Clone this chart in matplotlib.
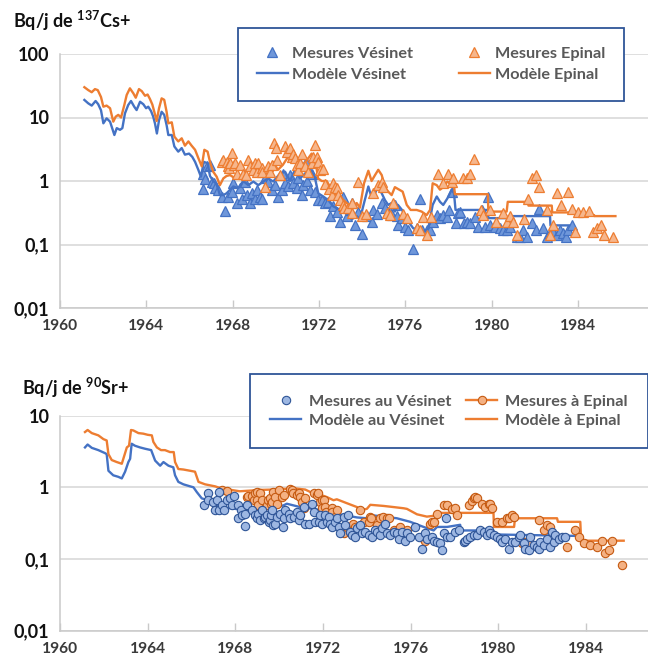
import numpy as np
import matplotlib
matplotlib.use("Agg")
import matplotlib.pyplot as plt
from matplotlib.lines import Line2D
from matplotlib.ticker import FixedLocator, FixedFormatter, NullLocator

plt.rcParams['font.family'] = ['Lato', 'DejaVu Sans']
plt.rcParams['font.weight'] = 'bold'
plt.rcParams['mathtext.fontset'] = 'custom'
plt.rcParams['mathtext.rm'] = 'Lato:bold'
plt.rcParams['mathtext.bf'] = 'Lato:bold'
plt.rcParams['mathtext.it'] = 'Lato:bold:italic'

# ---------------- data: 137Cs (Bq/j) ----------------
cs_model_vesinet = [
    (1961.13, 18.9), (1961.31, 16.7), (1961.47, 15.4), (1961.65, 18.2), (1961.77, 16.2), (1961.90, 13),
    (1962.01, 8.1), (1962.16, 9.7), (1962.32, 8.6), (1962.52, 5.3), (1962.63, 6.8), (1962.78, 6.4),
    (1962.89, 6.8), (1963.01, 11.6), (1963.16, 15.7), (1963.29, 18.2), (1963.44, 14.8), (1963.55, 13.1),
    (1963.71, 17.7), (1963.86, 16.2), (1963.99, 14), (1964.09, 14.8), (1964.22, 12.6), (1964.32, 10.3),
    (1964.40, 8.1), (1964.49, 5.6), (1964.59, 9.1), (1964.71, 12.3), (1964.83, 11), (1964.94, 7.6),
    (1965.02, 5.3), (1965.18, 5.3), (1965.30, 3.5), (1965.48, 2.9), (1965.64, 3.3), (1965.79, 2.6),
    (1965.98, 2.7), (1966.13, 2.4), (1966.26, 2.0), (1966.41, 1.5), (1966.53, 1.17), (1966.67, 2.0),
    (1966.84, 1.9), (1966.95, 1.2), (1967.10, 1.0), (1967.26, 0.9), (1967.41, 0.6), (1967.57, 0.6),
    (1967.72, 0.64), (1968.03, 0.82), (1968.26, 0.77), (1968.49, 1.0), (1968.73, 0.86), (1968.96, 0.98),
    (1969.19, 0.86), (1969.42, 0.98), (1969.65, 1.1), (1969.88, 0.98), (1970.19, 1.3), (1970.43, 1.4),
    (1970.66, 1.0), (1970.89, 1.5), (1971.12, 1.1), (1971.35, 1.3), (1971.58, 1.6), (1971.82, 1.1),
    (1971.97, 0.64), (1972.20, 0.57), (1972.43, 0.5), (1972.66, 0.4), (1972.97, 0.35), (1973.29, 0.31),
    (1973.52, 0.25), (1973.75, 0.28), (1973.90, 0.25), (1974.09, 0.45), (1974.29, 0.82), (1974.44, 0.55),
    (1974.60, 0.64), (1974.75, 0.85), (1974.91, 0.64), (1975.06, 0.5), (1975.21, 0.42), (1975.37, 0.45),
    (1975.52, 0.33), (1975.66, 0.42), (1975.85, 0.35), (1976.14, 0.23), (1976.37, 0.18), (1976.68, 0.17),
    (1976.91, 0.16), (1977.07, 0.18), (1977.27, 0.42), (1977.46, 0.57), (1977.61, 0.47), (1977.76, 0.42),
    (1977.95, 0.53), (1978.15, 0.73), (1978.26, 0.64), (1978.33, 0.35), (1979.83, 0.35), (1979.85, 0.26),
    (1980.77, 0.26), (1980.80, 0.28), (1982.71, 0.28), (1982.73, 0.2), (1983.59, 0.2),
]

cs_model_epinal = [
    (1961.13, 30), (1961.31, 27), (1961.47, 25), (1961.62, 28), (1961.75, 27), (1961.90, 21),
    (1962.01, 14.8), (1962.16, 15.4), (1962.32, 14), (1962.47, 8.6), (1962.58, 10.3), (1962.70, 11),
    (1962.83, 10), (1962.98, 15.7), (1963.09, 22.6), (1963.24, 28.8), (1963.40, 24), (1963.51, 20.5),
    (1963.66, 28), (1963.79, 26), (1963.94, 22), (1964.06, 23), (1964.17, 19.5), (1964.28, 16),
    (1964.37, 12.3), (1964.48, 8.8), (1964.59, 14), (1964.71, 20), (1964.83, 19), (1964.94, 12.3),
    (1965.02, 8.1), (1965.18, 8.4), (1965.30, 5.0), (1965.48, 4.2), (1965.64, 4.7), (1965.79, 3.6),
    (1965.95, 4.2), (1966.10, 3.6), (1966.26, 3.1), (1966.41, 2.3), (1966.57, 1.7), (1966.69, 3.1),
    (1966.84, 2.9), (1966.95, 2.0), (1967.10, 1.4), (1967.26, 1.17), (1967.41, 0.86), (1967.57, 1.1),
    (1967.72, 1.2), (1967.88, 1.24), (1968.03, 1.15), (1968.19, 1.1), (1968.48, 1.25), (1968.80, 1.6),
    (1969.11, 1.3), (1969.41, 1.5), (1969.73, 1.7), (1969.87, 2.0), (1970.10, 1.5), (1970.33, 1.8),
    (1970.57, 2.4), (1970.74, 2.7), (1970.89, 2.0), (1971.03, 2.3), (1971.20, 1.7), (1971.43, 2.1),
    (1971.66, 2.7), (1971.82, 2.3), (1971.96, 1.1), (1972.13, 1.0), (1972.36, 1.0), (1972.59, 0.73),
    (1972.82, 0.6), (1973.05, 0.53), (1973.29, 0.45), (1973.52, 0.38), (1973.75, 0.45), (1973.90, 0.38),
    (1974.09, 0.92), (1974.29, 1.45), (1974.44, 1.0), (1974.60, 1.24), (1974.75, 1.5), (1974.91, 1.24),
    (1975.06, 0.8), (1975.21, 0.68), (1975.37, 0.6), (1975.52, 0.8), (1975.66, 0.75), (1975.88, 0.68),
    (1976.07, 0.42), (1976.25, 0.35), (1976.53, 0.35), (1976.76, 0.33), (1976.99, 0.29), (1977.15, 0.35),
    (1977.27, 0.92), (1977.46, 0.86), (1977.61, 0.73), (1977.76, 0.8), (1977.95, 0.98), (1978.07, 0.92),
    (1978.23, 1.1), (1978.30, 0.62), (1979.83, 0.62), (1979.85, 0.33), (1980.70, 0.33), (1980.75, 0.47),
    (1981.69, 0.47), (1981.71, 0.41), (1982.79, 0.41), (1982.81, 0.32), (1983.91, 0.32), (1983.93, 0.29),
    (1984.75, 0.29), (1984.77, 0.28), (1985.74, 0.28),
]

cs_meas_vesinet = [
    (1966.62, 1.3), (1966.64, 0.75), (1966.72, 1.08), (1966.80, 1.7), (1966.95, 1.8), (1967.03, 0.98),
    (1967.15, 0.92), (1967.20, 0.77), (1967.34, 0.73), (1967.49, 0.57), (1967.65, 0.34), (1967.80, 0.57),
    (1967.96, 0.68), (1968.03, 0.92), (1968.19, 0.45), (1968.34, 0.77), (1968.42, 0.53), (1968.57, 0.98),
    (1968.65, 0.6), (1968.80, 0.45), (1968.88, 0.64), (1969.04, 0.53), (1969.11, 0.73), (1969.27, 0.57),
    (1969.34, 0.53), (1969.50, 1.1), (1969.65, 0.98), (1969.81, 0.73), (1969.96, 0.86), (1970.12, 0.57),
    (1970.27, 0.73), (1970.35, 1.3), (1970.43, 0.92), (1970.58, 0.82), (1970.66, 1.24), (1970.81, 0.92),
    (1970.97, 0.77), (1971.04, 1.1), (1971.20, 0.6), (1971.27, 0.86), (1971.40, 2.0), (1971.43, 1.0),
    (1971.58, 0.73), (1971.66, 1.3), (1971.82, 0.68), (1971.97, 0.5), (1972.13, 0.5), (1972.28, 0.45),
    (1972.43, 0.47), (1972.51, 0.28), (1972.66, 0.4), (1972.82, 0.33), (1972.97, 0.23), (1973.13, 0.57),
    (1973.28, 0.28), (1973.44, 0.35), (1973.52, 0.45), (1973.67, 0.2), (1973.82, 0.33), (1974.01, 0.146),
    (1974.21, 0.28), (1974.44, 0.23), (1974.52, 0.35), (1974.67, 0.3), (1974.91, 0.45), (1975.06, 0.38),
    (1975.21, 0.33), (1975.37, 0.29), (1975.52, 0.42), (1975.60, 0.28), (1975.68, 0.2), (1975.83, 0.26),
    (1975.99, 0.19), (1976.14, 0.17), (1976.34, 0.086), (1976.53, 0.18), (1976.68, 0.53), (1976.76, 0.17),
    (1976.99, 0.17), (1977.15, 0.17), (1977.30, 0.23), (1977.46, 0.29), (1977.61, 0.26), (1977.76, 0.29),
    (1977.92, 0.27), (1978.04, 0.35), (1978.15, 0.68), (1978.35, 0.215), (1978.46, 0.31), (1978.54, 0.33),
    (1978.72, 0.215), (1978.85, 0.23), (1979.00, 0.22), (1979.23, 0.27), (1979.38, 0.19), (1979.54, 0.35),
    (1979.69, 0.19), (1979.82, 0.57), (1979.93, 0.2), (1980.16, 0.19), (1980.39, 0.18), (1980.54, 0.17),
    (1980.70, 0.17), (1980.85, 0.19), (1981.16, 0.13), (1981.32, 0.13), (1981.47, 0.17), (1981.62, 0.13),
    (1981.86, 0.215), (1982.04, 0.17), (1982.20, 0.36), (1982.40, 0.18), (1982.55, 0.13), (1982.71, 0.15),
    (1982.86, 0.16), (1983.02, 0.14), (1983.17, 0.17), (1983.32, 0.15), (1983.45, 0.13), (1983.55, 0.17),
    (1983.71, 0.2),
]

cs_meas_epinal = [
    (1967.49, 2.0), (1967.57, 2.15), (1967.72, 2.0), (1967.80, 1.7), (1967.85, 1.6), (1967.88, 1.9),
    (1967.98, 2.8), (1968.07, 1.8), (1968.11, 1.9), (1968.19, 1.3), (1968.34, 1.8), (1968.49, 1.3),
    (1968.60, 1.24), (1968.73, 2.15), (1968.80, 1.7), (1968.96, 1.5), (1969.04, 1.9), (1969.11, 1.4),
    (1969.19, 1.9), (1969.34, 1.6), (1969.37, 1.4), (1969.50, 0.8), (1969.65, 1.7), (1969.73, 1.4),
    (1969.81, 1.8), (1969.92, 4.0), (1970.01, 3.3), (1970.07, 2.15), (1970.19, 1.24), (1970.43, 3.5),
    (1970.53, 2.9), (1970.66, 3.3), (1970.74, 2.4), (1970.81, 2.7), (1970.89, 2.3), (1970.97, 1.8),
    (1971.04, 1.5), (1971.12, 1.9), (1971.20, 2.7), (1971.35, 1.7), (1971.51, 1.4), (1971.66, 1.9),
    (1971.74, 2.4), (1971.82, 3.7), (1971.89, 2.4), (1971.97, 2.0), (1972.05, 1.5), (1972.17, 1.55),
    (1972.30, 0.9), (1972.45, 0.75), (1972.59, 0.6), (1972.66, 0.92), (1972.74, 0.8), (1972.82, 0.77),
    (1972.90, 0.6), (1972.97, 0.5), (1973.13, 0.42), (1973.15, 0.38), (1973.36, 0.38), (1973.52, 0.31),
    (1973.55, 0.45), (1973.82, 0.98), (1973.98, 0.28), (1974.20, 0.3), (1974.52, 0.64), (1974.75, 0.86),
    (1974.91, 0.98), (1974.98, 0.8), (1975.14, 0.31), (1975.29, 0.29), (1975.45, 0.45), (1975.90, 0.3),
    (1976.10, 0.26), (1976.53, 0.18), (1976.68, 0.17), (1976.84, 0.27), (1977.02, 0.14), (1977.18, 0.27),
    (1977.53, 1.3), (1977.76, 0.92), (1977.99, 1.3), (1978.15, 0.98), (1978.23, 1.1), (1978.66, 1.1),
    (1978.85, 1.1), (1979.00, 1.3), (1979.18, 2.2), (1979.49, 0.35), (1979.62, 0.29), (1979.93, 0.35),
    (1980.20, 0.23), (1980.51, 0.31), (1980.70, 0.23), (1980.85, 0.28), (1981.01, 0.23), (1981.19, 0.14),
    (1981.52, 0.25), (1981.70, 0.52), (1981.86, 1.1), (1982.04, 1.24), (1982.20, 0.8), (1982.55, 0.35),
    (1982.71, 0.14), (1982.86, 0.2), (1983.02, 0.64), (1983.20, 0.42), (1983.52, 0.68), (1983.71, 0.36),
    (1983.86, 0.16), (1984.02, 0.33), (1984.22, 0.33), (1984.53, 0.34), (1984.71, 0.16), (1984.87, 0.18),
    (1985.06, 0.2), (1985.21, 0.14), (1985.61, 0.13),
]

# ---------------- data: 90Sr (Bq/j) ----------------
sr_model_vesinet = [
    (1961.14, 3.6), (1961.26, 3.95), (1961.45, 3.55), (1961.75, 3.3), (1962.05, 3.0), (1962.13, 2.9),
    (1962.21, 1.7), (1962.43, 1.47), (1962.66, 1.4), (1962.82, 1.33), (1962.97, 1.65), (1963.12, 2.25),
    (1963.20, 2.5), (1963.27, 4.05), (1963.42, 3.8), (1963.65, 3.6), (1963.88, 3.45), (1964.16, 3.3),
    (1964.34, 2.36), (1964.57, 2.0), (1964.72, 2.25), (1964.95, 2.0), (1965.17, 1.9), (1965.25, 1.47),
    (1965.40, 1.19), (1965.63, 1.1), (1965.94, 1.03), (1966.09, 1.0), (1966.24, 0.86), (1966.47, 0.70),
    (1966.77, 0.66), (1967.38, 0.53), (1967.99, 0.5), (1968.45, 0.48), (1968.68, 0.48), (1969.59, 0.5),
    (1970.20, 0.56), (1970.35, 0.59), (1970.96, 0.53), (1971.72, 0.49), (1972.33, 0.44), (1972.94, 0.41),
    (1973.55, 0.38), (1974.00, 0.37), (1974.16, 0.41), (1974.76, 0.39), (1975.37, 0.37), (1975.98, 0.33),
    (1976.59, 0.28), (1977.05, 0.25), (1977.20, 0.28), (1977.66, 0.28), (1978.26, 0.30), (1978.30, 0.25),
    (1979.78, 0.25), (1979.80, 0.22), (1983.55, 0.21),
]

sr_model_epinal = [
    (1961.14, 5.9), (1961.26, 6.3), (1961.45, 5.7), (1961.75, 5.3), (1961.98, 4.7), (1962.13, 4.5),
    (1962.21, 2.9), (1962.36, 2.4), (1962.59, 2.25), (1962.82, 2.13), (1962.89, 2.5), (1963.05, 3.6),
    (1963.15, 3.8), (1963.24, 6.3), (1963.35, 6.2), (1963.58, 5.7), (1963.80, 5.6), (1964.00, 5.4),
    (1964.19, 5.3), (1964.26, 4.3), (1964.42, 3.6), (1964.61, 3.3), (1964.79, 3.3), (1965.02, 3.1),
    (1965.19, 3.1), (1965.25, 2.25), (1965.40, 1.8), (1965.63, 1.77), (1965.94, 1.7), (1966.16, 1.65),
    (1966.32, 1.19), (1966.62, 1.1), (1967.08, 1.03), (1967.38, 0.96), (1967.70, 0.93), (1968.20, 0.88),
    (1968.70, 0.9), (1969.20, 0.92), (1969.70, 0.93), (1970.20, 0.95), (1970.81, 0.96), (1971.19, 0.93),
    (1971.42, 0.86), (1971.72, 0.82), (1972.18, 0.73), (1972.48, 0.66), (1972.63, 0.68), (1973.09, 0.6),
    (1973.55, 0.53), (1973.70, 0.48), (1974.00, 0.50), (1974.16, 0.57), (1974.76, 0.55), (1975.22, 0.53),
    (1975.68, 0.51), (1975.83, 0.50), (1976.29, 0.42), (1976.74, 0.39), (1977.05, 0.40), (1977.35, 0.44),
    (1977.96, 0.44), (1978.26, 0.44), (1979.78, 0.44), (1979.80, 0.28), (1980.72, 0.28), (1980.76, 0.37),
    (1982.68, 0.37), (1982.72, 0.33), (1983.74, 0.33), (1983.78, 0.18), (1985.72, 0.18),
]

sr_meas_vesinet = [
    (1966.59, 0.56), (1966.74, 0.82), (1966.77, 0.66), (1967.00, 0.63), (1967.08, 0.48), (1967.16, 0.67),
    (1967.25, 0.85), (1967.26, 0.48), (1967.38, 0.56), (1967.50, 0.49), (1967.61, 0.66), (1967.76, 0.72),
    (1967.84, 0.56), (1967.96, 0.75), (1968.11, 0.56), (1968.14, 0.37), (1968.25, 0.48), (1968.30, 0.41),
    (1968.42, 0.29), (1968.45, 0.43), (1968.52, 0.56), (1968.75, 0.48), (1968.90, 0.41), (1968.98, 0.37),
    (1969.03, 0.43), (1969.13, 0.35), (1969.21, 0.48), (1969.33, 0.37), (1969.36, 0.39), (1969.44, 0.41),
    (1969.52, 0.33), (1969.59, 0.35), (1969.62, 0.41), (1969.67, 0.48), (1969.70, 0.30), (1969.82, 0.31),
    (1969.90, 0.39), (1970.05, 0.43), (1970.17, 0.28), (1970.20, 0.37), (1970.28, 0.48), (1970.43, 0.43),
    (1970.51, 0.37), (1970.66, 0.39), (1970.81, 0.45), (1970.89, 0.35), (1970.96, 0.41), (1971.12, 0.53),
    (1971.19, 0.31), (1971.34, 0.31), (1971.50, 0.59), (1971.57, 0.45), (1971.65, 0.33), (1971.80, 0.33),
    (1971.88, 0.41), (1971.95, 0.31), (1972.10, 0.41), (1972.18, 0.33), (1972.26, 0.39), (1972.33, 0.31),
    (1972.41, 0.28), (1972.56, 0.33), (1972.64, 0.37), (1972.71, 0.28), (1972.79, 0.23), (1972.94, 0.39),
    (1973.02, 0.30), (1973.12, 0.41), (1973.22, 0.24), (1973.32, 0.215), (1973.47, 0.20), (1973.55, 0.27),
    (1973.70, 0.30), (1973.78, 0.23), (1973.93, 0.24), (1974.08, 0.215), (1974.24, 0.20), (1974.39, 0.25),
    (1974.46, 0.24), (1974.62, 0.215), (1974.69, 0.27), (1974.84, 0.31), (1974.92, 0.23), (1975.07, 0.215),
    (1975.22, 0.24), (1975.38, 0.23), (1975.45, 0.19), (1975.61, 0.24), (1975.76, 0.18), (1975.83, 0.23),
    (1975.99, 0.20), (1976.21, 0.28), (1976.37, 0.20), (1976.52, 0.14), (1976.67, 0.23), (1976.75, 0.19),
    (1976.98, 0.20), (1977.05, 0.18), (1977.20, 0.174), (1977.36, 0.165), (1977.43, 0.133), (1977.50, 0.23),
    (1977.63, 0.37), (1977.66, 0.20), (1977.81, 0.20), (1978.03, 0.24), (1978.19, 0.25), (1978.42, 0.174),
    (1978.49, 0.18), (1978.57, 0.19), (1978.72, 0.20), (1978.87, 0.215), (1979.02, 0.215), (1979.18, 0.25),
    (1979.33, 0.24), (1979.48, 0.215), (1979.56, 0.25), (1979.63, 0.23), (1979.79, 0.215), (1979.94, 0.20),
    (1980.09, 0.19), (1980.17, 0.174), (1980.32, 0.19), (1980.47, 0.14), (1980.62, 0.174), (1980.77, 0.174),
    (1980.93, 0.20), (1981.00, 0.215), (1981.16, 0.165), (1981.23, 0.14), (1981.38, 0.133), (1981.46, 0.20),
    (1981.61, 0.156), (1981.76, 0.148), (1981.84, 0.14), (1981.92, 0.174), (1982.07, 0.156), (1982.22, 0.19),
    (1982.37, 0.148), (1982.45, 0.24), (1982.53, 0.174), (1982.60, 0.215), (1982.75, 0.19), (1982.91, 0.20),
    (1983.06, 0.20),
]

sr_meas_epinal = [
    (1967.38, 0.93), (1967.61, 0.88), (1968.52, 0.73), (1968.60, 0.75), (1968.75, 0.75), (1968.83, 0.66),
    (1968.90, 0.82), (1968.98, 0.86), (1969.00, 0.67), (1969.05, 0.56), (1969.13, 0.82), (1969.21, 0.66),
    (1969.44, 0.56), (1969.47, 0.66), (1969.59, 0.70), (1969.62, 0.59), (1969.67, 0.63), (1969.74, 0.86),
    (1969.82, 0.73), (1969.90, 0.59), (1969.97, 0.91), (1970.12, 0.73), (1970.20, 0.77), (1970.50, 0.96),
    (1970.60, 0.91), (1970.65, 0.82), (1970.81, 0.77), (1970.89, 0.82), (1970.96, 0.73), (1971.04, 0.63),
    (1971.12, 0.51), (1971.19, 0.70), (1971.57, 0.82), (1971.72, 0.77), (1971.79, 0.82), (1971.88, 0.63),
    (1971.95, 0.66), (1971.97, 0.51), (1972.03, 0.66), (1972.10, 0.53), (1972.12, 0.45), (1972.40, 0.51),
    (1972.43, 0.45), (1972.55, 0.39), (1972.64, 0.48), (1972.94, 0.23), (1973.09, 0.28), (1973.25, 0.24),
    (1973.39, 0.31), (1973.47, 0.28), (1973.70, 0.48), (1973.86, 0.33), (1974.08, 0.33), (1974.15, 0.39),
    (1974.20, 0.37), (1974.46, 0.30), (1974.61, 0.37), (1974.76, 0.39), (1974.92, 0.37), (1974.99, 0.37),
    (1975.22, 0.25), (1975.29, 0.24), (1975.52, 0.28), (1975.83, 0.25), (1976.59, 0.19), (1976.66, 0.18),
    (1976.89, 0.31), (1976.98, 0.33), (1977.05, 0.33), (1977.20, 0.43), (1977.50, 0.56), (1977.65, 0.56),
    (1977.88, 0.50), (1978.03, 0.51), (1978.11, 0.41), (1978.64, 0.56), (1978.80, 0.65), (1978.87, 0.70),
    (1978.95, 0.73), (1979.02, 0.70), (1979.25, 0.59), (1979.40, 0.53), (1979.56, 0.59), (1979.63, 0.59),
    (1979.71, 0.51), (1979.94, 0.33), (1980.17, 0.33), (1980.39, 0.37), (1980.47, 0.37), (1980.62, 0.41),
    (1980.70, 0.39), (1981.08, 0.165), (1981.23, 0.174), (1981.40, 0.17), (1981.84, 0.35), (1982.07, 0.25),
    (1982.22, 0.30), (1982.37, 0.28), (1982.45, 0.165), (1983.13, 0.148), (1983.51, 0.25), (1983.67, 0.20),
    (1983.89, 0.165), (1984.20, 0.156), (1984.50, 0.148), (1984.73, 0.18), (1984.88, 0.12), (1985.04, 0.133),
    (1985.19, 0.18), (1985.65, 0.083),
]

year_ticks = [1960, 1964, 1968, 1972, 1976, 1980, 1984]
cs_yticks = [0.01, 0.1, 1, 10, 100]
cs_ylabels = ["0,01", "0,1", "1", "10", "100"]
sr_yticks = [0.01, 0.1, 1, 10]
sr_ylabels = ["0,01", "0,1", "1", "10"]

BLUE = '#4472C4'
ORANGE = '#ED7D31'
TEXT_GREY = '#595959'


def xy(pairs):
    a = np.array(pairs, dtype=float)
    return a[:, 0], a[:, 1]


def style_axes(ax, xlim, ylim, yticks, ylabels):
    ax.set_yscale('log')
    ax.set_xlim(*xlim)
    ax.set_ylim(*ylim)
    ax.yaxis.set_major_locator(FixedLocator(yticks))
    ax.yaxis.set_major_formatter(FixedFormatter(ylabels))
    ax.yaxis.set_minor_locator(NullLocator())
    ax.set_xticks(year_ticks)
    ax.set_xticklabels([str(y) for y in year_ticks])
    ax.grid(axis='y', color='#D9D9D9', lw=1.2)
    ax.set_axisbelow(True)
    for s in ('top', 'right'):
        ax.spines[s].set_visible(False)
    for s in ('left', 'bottom'):
        ax.spines[s].set_color('#C9C9C9')
        ax.spines[s].set_linewidth(1.1)
    ax.tick_params(axis='x', direction='in', length=6, width=1.0, color='#C9C9C9',
                   pad=8, labelsize=11.2, labelcolor='#3A3A3A')
    ax.tick_params(axis='y', length=0, pad=7.5, labelsize=13, labelcolor='#111111')


fig = plt.figure(figsize=(6.48, 6.57), dpi=100)
W, H = 648.0, 657.0
ax1 = fig.add_axes([60 / W, 1 - 308 / H, 588 / W, 254 / H])
ax2 = fig.add_axes([60 / W, 1 - 630.7 / H, 588 / W, 215.1 / H])

# ---- 137Cs panel ----
t, v = xy(cs_meas_vesinet)
ax1.plot(t, v, ls='none', marker='^', ms=6.8, mfc='#6F97DA', mec=BLUE, mew=0.9, zorder=3)
t, v = xy(cs_model_vesinet)
ax1.plot(t, v, color=BLUE, lw=1.7, zorder=4)
t, v = xy(cs_model_epinal)
ax1.plot(t, v, color=ORANGE, lw=1.7, zorder=5)
t, v = xy(cs_meas_epinal)
ax1.plot(t, v, ls='none', marker='^', ms=6.8, mfc='#F6B68C', mec=ORANGE, mew=0.9, zorder=6)
style_axes(ax1, (1960, 1987.25), (0.01, 100), cs_yticks, cs_ylabels)

h1 = [Line2D([], [], ls='none', marker='^', ms=6.8, mfc='#6F97DA', mec=BLUE, mew=0.9),
      Line2D([], [], color=BLUE, lw=1.7),
      Line2D([], [], ls='none', marker='^', ms=6.8, mfc='#F6B68C', mec=ORANGE, mew=0.9),
      Line2D([], [], color=ORANGE, lw=1.7)]
l1 = ["Mesures Vésinet", "Modèle Vésinet", "Mesures Epinal", "Modèle Epinal"]
leg1 = ax1.legend(h1, l1, ncol=2, loc='upper left', bbox_to_anchor=(238 / W, 1 - 28 / H),
                  bbox_transform=fig.transFigure, frameon=True, fancybox=False, framealpha=1,
                  edgecolor='#2F5597', fontsize=11.7, handlelength=1.9, handletextpad=0.3,
                  columnspacing=2.8, labelspacing=0.4, borderpad=1.15, borderaxespad=0)
leg1.get_frame().set_linewidth(1.3)
for txt in leg1.get_texts():
    txt.set_color(TEXT_GREY)

fig.text(13 / W, 1 - 21 / H, r"Bq/j de $^{\mathbf{137}}$Cs+", fontsize=13, fontweight='bold',
         ha='left', va='center', color='#111111')

# ---- 90Sr panel ----
t, v = xy(sr_model_vesinet)
ax2.plot(t, v, color=BLUE, lw=1.7, zorder=3)
t, v = xy(sr_model_epinal)
ax2.plot(t, v, color=ORANGE, lw=1.7, zorder=3)
t, v = xy(sr_meas_epinal)
ax2.plot(t, v, ls='none', marker='o', ms=6, mfc='#F4B183', mec='#C55A11', mew=0.8, zorder=4)
t, v = xy(sr_meas_vesinet)
ax2.plot(t, v, ls='none', marker='o', ms=6, mfc='#9DB7E2', mec='#2F5597', mew=0.8, zorder=5)
style_axes(ax2, (1960, 1986.83), (0.01, 10), sr_yticks, sr_ylabels)

h2 = [Line2D([], [], ls='none', marker='o', ms=6, mfc='#9DB7E2', mec='#2F5597', mew=0.8),
      Line2D([], [], color=BLUE, lw=1.7),
      Line2D([], [], color=ORANGE, lw=1.7, marker='o', ms=6, mfc='#F4B183', mec='#C55A11', mew=0.8),
      Line2D([], [], color=ORANGE, lw=1.7)]
l2 = ["Mesures au Vésinet", "Modèle au Vésinet", "Mesures à Epinal", "Modèle à Epinal"]
leg2 = ax2.legend(h2, l2, ncol=2, loc='upper left', bbox_to_anchor=(250 / W, 1 - 374 / H),
                  bbox_transform=fig.transFigure, frameon=True, fancybox=False, framealpha=1,
                  edgecolor='#2F5597', fontsize=11.7, handlelength=1.9, handletextpad=0.5,
                  columnspacing=0.9, labelspacing=0.3, borderpad=1.25, borderaxespad=0)
leg2.get_frame().set_linewidth(1.3)
for txt in leg2.get_texts():
    txt.set_color(TEXT_GREY)

fig.text(22 / W, 1 - 388 / H, r"Bq/j de $^{\mathbf{90}}$Sr+", fontsize=13, fontweight='bold',
         ha='left', va='center', color='#111111')

fig.savefig('out.png', dpi=100)
